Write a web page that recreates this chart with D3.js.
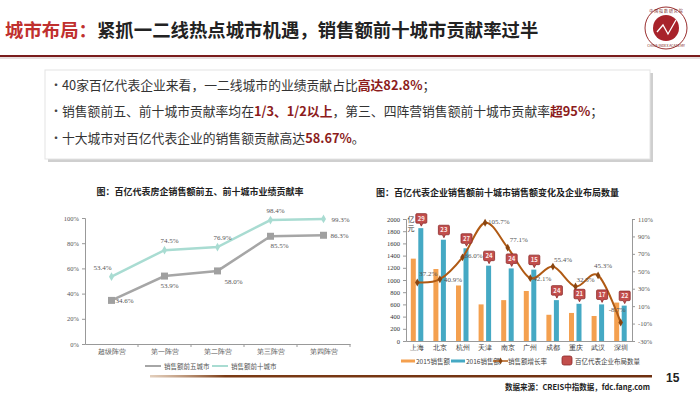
<!DOCTYPE html>
<html>
<head>
<meta charset="utf-8">
<script src="https://cdn.jsdelivr.net/npm/d3@7"></script>
<style>
  body { margin: 0; background: #fff; }
  svg { display: block; font-family: "Noto Sans CJK SC", "Noto Sans", sans-serif; }
</style>
</head>
<body>
<svg width="700" height="393"></svg>
<script>
// left chart data
const camps = ['超级阵营', '第一阵营', '第二阵营', '第三阵营', '第四阵营'];
const top5Share = [34.6, 53.9, 58.0, 85.5, 86.3];
const top10Share = [53.4, 74.5, 76.9, 98.4, 99.3];
const shareTicks = [0, 20, 40, 60, 80, 100];

// right chart data
const cities = ['上海', '北京', '杭州', '天津', '南京', '广州', '成都', '重庆', '武汉', '深圳'];
const sales2015 = [1350, 1180, 910, 600, 670, 820, 430, 460, 410, 630];
const sales2016 = [1850, 1660, 1520, 1235, 1190, 1170, 670, 610, 600, 580];
const growthRate = [37.2, 40.9, 66.0, 105.7, 77.1, 42.1, 55.4, 32.5, 45.3, -8.7];
const companyCount = [29, 23, 27, 24, 24, 15, 24, 21, 17, 22];
const salesTicks = d3.range(0, 2001, 200);
const growthTicks = [-30, -10, 10, 30, 50, 70, 90, 110];

const svg = d3.select('svg');
const darkRed = '#8c1c1c';

// header
const title = svg.append('text').attr('x', 5).attr('y', 37)
    .attr('font-size', 18.4).attr('font-weight', 'bold');
title.append('tspan').attr('fill', '#c0302e').text('城市布局：');
title.append('tspan').attr('fill', '#222').text('紧抓一二线热点城市机遇，销售额前十城市贡献率过半');

svg.append('rect').attr('x', 0).attr('y', 55).attr('width', 700).attr('height', 2).attr('fill', '#7a1c1c');
svg.append('rect').attr('x', 0).attr('y', 57).attr('width', 700).attr('height', 2).attr('fill', '#e6dede');

// logo
const logo = svg.append('g').attr('transform', 'translate(666,28)');
logo.append('circle').attr('r', 21).attr('fill', '#fff').attr('stroke', '#9a3030').attr('stroke-width', 1);
logo.append('circle').attr('r', 13).attr('fill', '#a8232b');
logo.append('path').attr('d', 'M-9,4 L-3,-3 L2,6 L10,-8').attr('fill', 'none').attr('stroke', '#fff').attr('stroke-width', 1.3);
logo.append('text').attr('y', -15).attr('text-anchor', 'middle').attr('font-size', 4).attr('fill', '#7a1c1c').text('中 国 指 数 研 究 院');
logo.append('text').attr('y', 19).attr('text-anchor', 'middle').attr('font-size', 3.5).attr('fill', '#7a1c1c').text('CHINA INDEX ACADEMY');

// bullet box
svg.append('rect').attr('x', 48).attr('y', 73).attr('width', 605).attr('height', 89).attr('fill', '#cfcfcf');
svg.append('rect').attr('x', 45).attr('y', 70).attr('width', 605).attr('height', 89)
    .attr('fill', '#fff').attr('stroke', '#e4e4e4');

const bullets = [
  [['40家百亿代表企业来看，一二线城市的业绩贡献占比', 0], ['高达82.8%', 1], ['；', 0]],
  [['销售额前五、前十城市贡献率均在', 0], ['1/3、1/2以上', 1], ['，第三、四阵营销售额前十城市贡献率', 0], ['超95%', 1], ['；', 0]],
  [['十大城市对百亿代表企业的销售额贡献高达', 0], ['58.67%', 1], ['。', 0]]
];
bullets.forEach((parts, i) => {
  const y = 89.5 + i * 26.5;
  svg.append('text').attr('x', 50).attr('y', y).attr('font-size', 12).attr('fill', '#444').text('•');
  const t = svg.append('text').attr('x', 62).attr('y', y).attr('font-size', 12.8).attr('fill', '#333');
  parts.forEach(p => {
    t.append('tspan').text(p[0])
      .attr('fill', p[1] ? darkRed : '#333')
      .attr('font-weight', p[1] ? 'bold' : 'normal');
  });
});

// ---------- left chart ----------
svg.append('text').attr('x', 200).attr('y', 195).attr('text-anchor', 'middle')
    .attr('font-size', 9).attr('font-weight', 'bold').attr('fill', '#222')
    .text('图：百亿代表房企销售额前五、前十城市业绩贡献率');

const lx = d3.scaleBand().domain(camps).range([85, 350]);
const ly = d3.scaleLinear().domain([0, 100]).range([344, 218]);
const left = svg.append('g');

left.append('g').attr('transform', 'translate(85,0)')
  .call(d3.axisLeft(ly).tickValues(shareTicks).tickFormat(d => d + '%').tickSize(3))
  .call(g => g.selectAll('path,line').attr('stroke', '#999'))
  .call(g => g.selectAll('text').attr('font-size', 6.5).attr('fill', '#555').attr('font-family', 'Liberation Serif'));

left.append('g').attr('transform', 'translate(0,344)')
  .call(d3.axisBottom(lx).tickSize(0))
  .call(g => g.select('.domain').attr('stroke', '#999'))
  .call(g => g.selectAll('text').attr('font-size', 6.5).attr('fill', '#555').attr('dy', '1.1em'));
left.selectAll('.sep').data(camps).enter().append('line')
  .attr('x1', (d, i) => 85 + lx.step() * (i + 1)).attr('x2', (d, i) => 85 + lx.step() * (i + 1))
  .attr('y1', 344).attr('y2', 347).attr('stroke', '#999');

const cx = d => lx(d) + lx.bandwidth() / 2;
const lineL = vals => d3.line().x((d, i) => cx(camps[i])).y(d => ly(d))(vals);

left.append('path').attr('d', lineL(top5Share)).attr('fill', 'none').attr('stroke', '#a6a6a6').attr('stroke-width', 2.5);
left.append('path').attr('d', lineL(top10Share)).attr('fill', 'none').attr('stroke', '#a9dcd2').attr('stroke-width', 2.5);

left.selectAll('.sq').data(top5Share).enter().append('rect')
  .attr('x', (d, i) => cx(camps[i]) - 3.5).attr('y', d => ly(d) - 3.5)
  .attr('width', 7).attr('height', 7).attr('fill', '#a0a0a0');
left.selectAll('.dm').data(top10Share).enter().append('path')
  .attr('d', d3.symbol(d3.symbolDiamond, 22))
  .attr('transform', (d, i) => `translate(${cx(camps[i])},${ly(d)})`)
  .attr('fill', '#a9dcd2');

const top5Off = [[4, 3], [-4, 12], [7, 13], [0, 12], [7, 3]];
const top10Off = [[-18, -7], [-4, -7], [-4, -7], [-4, -7], [8, 3]];
const labelFont = g => g.attr('font-size', 7).attr('fill', '#555').attr('font-family', 'Liberation Serif');
left.selectAll('.l5').data(top5Share).enter().append('text')
  .attr('x', (d, i) => cx(camps[i]) + top5Off[i][0]).attr('y', (d, i) => ly(d) + top5Off[i][1])
  .text(d => d.toFixed(1) + '%').call(labelFont);
left.selectAll('.l10').data(top10Share).enter().append('text')
  .attr('x', (d, i) => cx(camps[i]) + top10Off[i][0]).attr('y', (d, i) => ly(d) + top10Off[i][1])
  .text(d => d.toFixed(1) + '%').call(labelFont);

// left legend
const legL = svg.append('g').attr('transform', 'translate(145,366)');
[['销售额前五城市', '#a6a6a6'], ['销售额前十城市', '#a9dcd2']].forEach((d, i) => {
  const g = legL.append('g').attr('transform', `translate(${i * 67},0)`);
  g.append('line').attr('x1', 0).attr('x2', 16).attr('stroke', d[1]).attr('stroke-width', 2);
  g.append('text').attr('x', 19).attr('y', 2.5).attr('font-size', 6.5).attr('fill', '#555').text(d[0]);
});

// ---------- right chart ----------
svg.append('text').attr('x', 376).attr('y', 196)
    .attr('font-size', 9).attr('font-weight', 'bold').attr('fill', '#222')
    .text('图：百亿代表企业销售额前十城市销售额变化及企业布局数量');

const rx = d3.scaleBand().domain(cities).range([406, 632]);
const ry = d3.scaleLinear().domain([0, 2000]).range([341, 219]);
const gy = d3.scaleLinear().domain([-30, 110]).range([341, 219]);
const right = svg.append('g');

right.append('g').attr('transform', 'translate(406,0)')
  .call(d3.axisLeft(ry).tickValues(salesTicks).tickFormat(d3.format('d')).tickSize(3))
  .call(g => g.selectAll('path,line').attr('stroke', '#999'))
  .call(g => g.selectAll('text').attr('font-size', 6.5).attr('fill', '#333').attr('font-family', 'Liberation Serif'));
right.append('g').attr('transform', 'translate(632,0)')
  .call(d3.axisRight(gy).tickValues(growthTicks).tickFormat(d => d + '%').tickSize(3))
  .call(g => g.selectAll('path,line').attr('stroke', '#999'))
  .call(g => g.selectAll('text').attr('font-size', 6.5).attr('fill', '#555').attr('font-family', 'Liberation Serif'));
right.append('g').attr('transform', 'translate(0,341)')
  .call(d3.axisBottom(rx).tickSize(0))
  .call(g => g.select('.domain').attr('stroke', '#999'))
  .call(g => g.selectAll('text').attr('font-size', 7).attr('fill', '#333').attr('dy', '0.9em'));

svg.append('text').attr('x', 407.5).attr('y', 222).attr('font-size', 7).attr('fill', '#333').text('亿');
svg.append('text').attr('x', 407.5).attr('y', 230.5).attr('font-size', 7).attr('fill', '#333').text('元');

const bw = 5;
const rc = d => rx(d) + rx.bandwidth() / 2;
right.selectAll('.b15').data(sales2015).enter().append('rect')
  .attr('x', (d, i) => rc(cities[i]) - bw - 1.5).attr('y', d => ry(d))
  .attr('width', bw).attr('height', d => 341 - ry(d)).attr('fill', '#f4a04f');
right.selectAll('.b16').data(sales2016).enter().append('rect')
  .attr('x', (d, i) => rc(cities[i]) + 1).attr('y', d => ry(d))
  .attr('width', bw).attr('height', d => 341 - ry(d)).attr('fill', '#45a9c4');

// growth line
const gLine = d3.line().curve(d3.curveCatmullRom.alpha(0))
  .x((d, i) => rc(cities[i])).y(d => gy(d));
right.append('path').attr('d', gLine(growthRate)).attr('fill', 'none')
  .attr('stroke', '#b05a14').attr('stroke-width', 2);
right.selectAll('.gm').data(growthRate).enter().append('path')
  .attr('d', d3.symbol(d3.symbolDiamond, 18))
  .attr('transform', (d, i) => `translate(${rc(cities[i])},${gy(d)})`)
  .attr('fill', '#8a4510');
const gOff = [[2, -6], [4, 3], [2, 1], [3, 1], [2, -6], [3, 3], [1, -5], [1, -5], [-4, -7], [-12, -10]];
right.selectAll('.gl').data(growthRate).enter().append('text')
  .attr('x', (d, i) => rc(cities[i]) + gOff[i][0]).attr('y', (d, i) => gy(d) + gOff[i][1])
  .text(d => d.toFixed(1) + '%').call(labelFont);

// company count callouts
const callout = right.selectAll('.co').data(companyCount).enter().append('g')
  .attr('transform', (d, i) => `translate(${rc(cities[i]) + 1.5 + bw / 2},${ry(sales2016[i]) - 9.5})`);
callout.append('path')
  .attr('d', 'M-4.5,-5 Q-5.5,-5 -5.5,-4 L-5.5,3.5 Q-5.5,4.5 -4.5,4.5 L-1.5,4.5 L0,7.5 L1.5,4.5 L4.5,4.5 Q5.5,4.5 5.5,3.5 L5.5,-4 Q5.5,-5 4.5,-5 Z')
  .attr('fill', '#c24e4c').attr('stroke', '#8c2a2a').attr('stroke-width', 0.8);
callout.append('text').attr('y', 2.2).attr('text-anchor', 'middle')
  .attr('font-size', 6).attr('font-weight', 'bold').attr('fill', '#fbeaea').text(d => d);

// right legend
const legR = svg.append('g').attr('transform', 'translate(0,361)');
const legItems = [
  ['2015销售额', 401, 'bar', '#f4a04f'],
  ['2016销售额', 451, 'bar', '#45a9c4'],
  ['销售额增长率', 493, 'line', '#b05a14'],
  ['百亿代表企业布局数量', 562, 'box', '#c24e4c']
];
legItems.forEach(d => {
  if (d[2] === 'bar') {
    legR.append('rect').attr('x', d[1]).attr('y', -1.5).attr('width', 14).attr('height', 3).attr('fill', d[3]);
  } else if (d[2] === 'line') {
    legR.append('line').attr('x1', d[1]).attr('x2', d[1] + 15).attr('stroke', d[3]).attr('stroke-width', 1.5);
    legR.append('path').attr('d', d3.symbol(d3.symbolDiamond, 14)).attr('transform', `translate(${d[1] + 7.5},0)`).attr('fill', '#8a4510');
  } else {
    legR.append('rect').attr('x', d[1]).attr('y', -5).attr('width', 10).attr('height', 9).attr('rx', 2)
      .attr('fill', d[3]).attr('stroke', '#8c2a2a').attr('stroke-width', 0.8);
  }
  legR.append('text').attr('x', d[1] + (d[2] === 'box' ? 13 : 15)).attr('y', 2.5)
    .attr('font-size', 6.5).attr('fill', '#444').text(d[0]);
});

// footer
const grad = svg.append('defs').append('linearGradient').attr('id', 'fl');
grad.append('stop').attr('offset', '0%').attr('stop-color', '#b8875a').attr('stop-opacity', 0.4);
grad.append('stop').attr('offset', '15%').attr('stop-color', '#7a3a14');
grad.append('stop').attr('offset', '100%').attr('stop-color', '#6e2f10');
svg.append('rect').attr('x', 150).attr('y', 375).attr('width', 502).attr('height', 2.5).attr('fill', 'url(#fl)');
svg.append('text').attr('x', 666).attr('y', 382).attr('font-size', 12).attr('font-weight', 'bold')
  .attr('fill', '#222').attr('font-family', 'Liberation Sans').text('15');
svg.append('text').attr('x', 650).attr('y', 390).attr('text-anchor', 'end')
  .attr('font-size', 7.5).attr('font-weight', 'bold').attr('fill', '#222')
  .text('数据来源：CREIS中指数据，fdc.fang.com');
</script>
</body>
</html>
